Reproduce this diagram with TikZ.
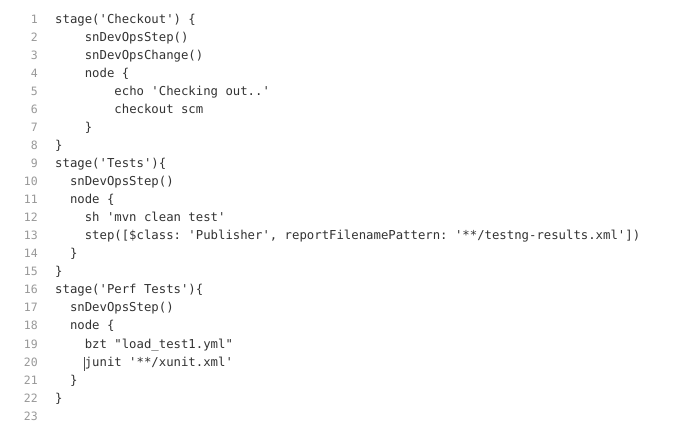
\documentclass[tikz,border=0pt]{standalone}
\usepackage{fontspec}
\setmonofont{DejaVu Sans Mono}
\begin{document}
\begin{tikzpicture}[x=1pt,y=-1pt,
  code/.style={anchor=base west,inner sep=0,font=\ttfamily\fontsize{12.3}{14}\selectfont,text=black!80},
  num/.style={anchor=base east,inner sep=0,font=\ttfamily\fontsize{11.5}{14}\selectfont,text=black!40}]
\useasboundingbox[fill=white] (0,0) rectangle (698,427);
\foreach \n/\t [count=\i] in {
 1/{stage('Checkout') \{},
 2/{\ \ \ \ snDevOpsStep()},
 3/{\ \ \ \ snDevOpsChange()},
 4/{\ \ \ \ node \{},
 5/{\ \ \ \ \ \ \ \ echo 'Checking out..'},
 6/{\ \ \ \ \ \ \ \ checkout scm},
 7/{\ \ \ \ \}},
 8/{\}},
 9/{stage('Tests')\{},
 10/{\ \ snDevOpsStep()},
 11/{\ \ node \{},
 12/{\ \ \ \ sh 'mvn clean test'},
 13/{\ \ \ \ step([\$class: 'Publisher', reportFilenamePattern: '**/testng-results.xml'])},
 14/{\ \ \}},
 15/{\}},
 16/{stage('Perf Tests')\{},
 17/{\ \ snDevOpsStep()},
 18/{\ \ node \{},
 19/{\ \ \ \ bzt "load\_test1.yml"},
 20/{\ \ \ \ junit '**/xunit.xml'},
 21/{\ \ \}},
 22/{\}},
 23/{}} {
  \node[num] (n\n) at (38,{24+(\n-1)*18}) {\n};
  \node[code] (c\n) at (55,{24+(\n-1)*18}) {\t};
}
\draw[black!70,line width=0.6pt] (84.5,357) -- (84.5,371);
\end{tikzpicture}
\end{document}
